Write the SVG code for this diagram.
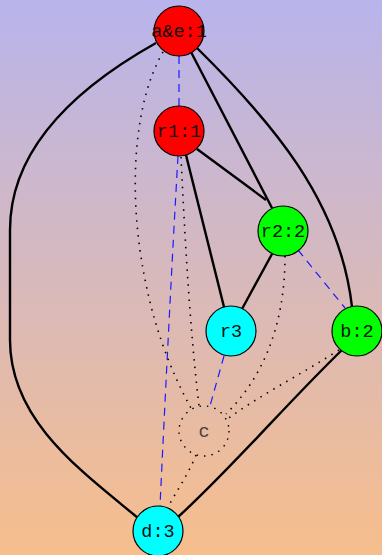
<svg xmlns="http://www.w3.org/2000/svg" width="382" height="555" viewBox="0 0 382 555">
<defs>
<linearGradient id="bg" x1="0" y1="0" x2="0" y2="1">
<stop offset="0" stop-color="#b8b4ec"/>
<stop offset="1" stop-color="#f7be8c"/>
</linearGradient>
<style>
.n{stroke:#000;stroke-width:1.2}
.t{font-family:"Liberation Mono","Courier New",monospace;font-size:18.5px;text-anchor:middle;fill:#111}
.s{fill:none;stroke:#000;stroke-width:2.4}
.b{fill:none;stroke:#1a1aff;stroke-width:1.2;stroke-dasharray:8,6}
.d{fill:none;stroke:#000;stroke-width:1.6;stroke-dasharray:1.5,6}
</style>
</defs>
<rect width="382" height="555" fill="url(#bg)"/>
<g id="edges">
<path class="s" d="M156,43 C90,80 10,140 10,230 L10,340 C10,420 80,470 138,518"/>
<path class="s" d="M191,52 L272,208"/>
<path class="s" d="M197,48 C270,120 340,200 352,307"/>
<path class="s" d="M197,149 L266,200"/>
<path class="s" d="M186,155 L224,307"/>
<path class="s" d="M272,254 L242,309"/>
<path class="s" d="M343,349 C290,400 230,470 178,517"/>
<path class="b" d="M179,56 L179,106"/>
<path class="b" d="M178,156 C172,260 165,400 160,506"/>
<path class="b" d="M298,250 L345,308"/>
<path class="b" d="M224,356 L210,406"/>
<path class="d" d="M163,52 C135,100 130,180 140,250 C150,320 170,370 192,410"/>
<path class="d" d="M181,157 C185,240 190,330 199,406"/>
<path class="d" d="M285,256 C285,330 260,380 226,414"/>
<path class="d" d="M339,350 C300,375 260,395 226,420"/>
<path class="d" d="M196,455 C188,475 176,492 168,507"/>
</g>
<g id="n-ae"><circle class="n" cx="179" cy="31" r="25" fill="#ff0000"/><text class="t" x="179" y="37">a&amp;e:1</text></g>
<g id="n-r1"><circle class="n" cx="179" cy="131" r="25" fill="#ff0000"/><text class="t" x="179" y="137">r1:1</text></g>
<g id="n-r2"><circle class="n" cx="283" cy="231" r="25" fill="#00ff00"/><text class="t" x="283" y="237">r2:2</text></g>
<g id="n-r3"><circle class="n" cx="231" cy="331" r="25" fill="#00ffff"/><text class="t" x="231" y="337">r3</text></g>
<g id="n-b"><circle class="n" cx="357" cy="331" r="25" fill="#00ff00"/><text class="t" x="357" y="337">b:2</text></g>
<g id="n-c"><circle cx="204" cy="431" r="25" fill="none" stroke="#000" stroke-width="1.4" stroke-dasharray="1.5,6"/><text class="t" x="204" y="437" style="fill:#444">c</text></g>
<g id="n-d"><circle class="n" cx="158" cy="531" r="25" fill="#00ffff"/><text class="t" x="158" y="537">d:3</text></g>
</svg>
